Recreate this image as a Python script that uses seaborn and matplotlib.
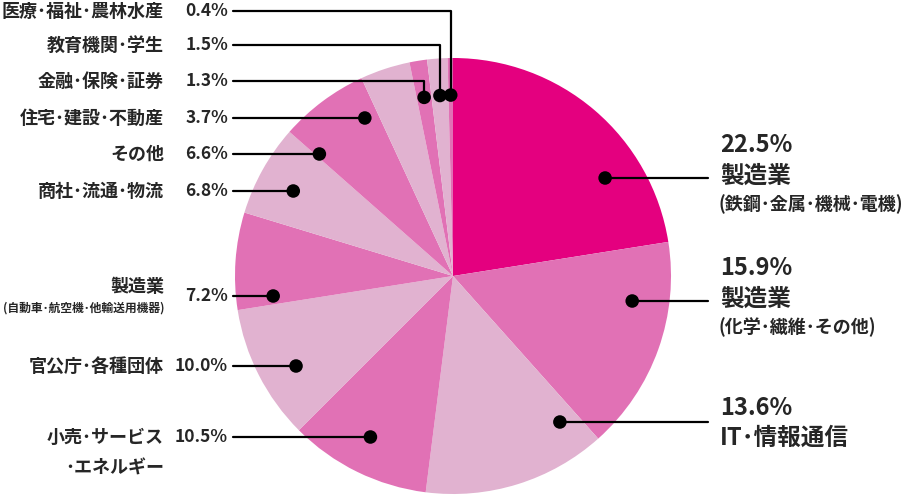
import numpy as np
import pandas as pd
import matplotlib
matplotlib.use("Agg")
import matplotlib.pyplot as plt
import seaborn as sns

# Data (clockwise from 12 o'clock)
values = [22.5, 15.9, 13.6, 10.5, 10.0, 7.2, 6.8, 6.6, 3.7, 1.3, 1.5, 0.4]
labels = ["製造業", "製造業", "IT･情報通信", "小売･サービス", "官公庁･各種団体", "製造業",
          "商社･流通･物流", "その他", "住宅･建設･不動産", "金融･保険･証券",
          "教育機関･学生", "医療･福祉･農林水産"]
sublabels = ["(鉄鋼･金属･機械･電機)", "(化学･繊維･その他)", "", "･エネルギー", "",
             "(自動車･航空機･他輸送用機器)", "", "", "", "", "", ""]
tones = ["dark", "mid", "light", "mid", "light", "mid", "light", "mid", "light", "mid", "light", "mid"]

# Layout (pixels from top-left)
W, H = 905, 496
cx, cy, R = 453, 276, 218
r_dot = 0.83 * R
label_y = [178, 301, 422, 437, 366, 296, 191, 154, 118, 81, 45, 11]
side = ["right"] * 3 + ["left"] * 9
top_leader = [False] * 9 + [True] * 3  # vertical leaders for the thin slices

palette = {"dark": "#E4007F", "mid": "#E171B5", "light": "#E1B2D0"}
colors = [palette[t] for t in tones]

sns.set_theme(style="white")
plt.rcParams['font.family'] = ['Noto Sans CJK JP', 'DejaVu Sans']
FW = "bold"

fig = plt.figure(figsize=(W / 100, H / 100), dpi=100)
ax = fig.add_axes([0, 0, 1, 1])

# y axis inverted -> counterclock=True draws clockwise on screen
ax.pie(values, colors=colors, startangle=270, counterclock=True,
       center=(cx, cy), radius=R, wedgeprops=dict(linewidth=0))
ax.set_xlim(0, W)
ax.set_ylim(H, 0)
ax.set_aspect('equal')
ax.axis('off')

# Dot positions
cum = np.cumsum([0] + values[:-1])
dots = []
for i, v in enumerate(values):
    if top_leader[i]:
        ang = np.deg2rad((cum[i] + v / 2) * 3.6)
        dots.append((cx + r_dot * np.sin(ang), cy - r_dot * np.cos(ang)))
    else:
        dy = label_y[i] - cy
        dx = np.sqrt(r_dot ** 2 - dy ** 2)
        dots.append((cx + dx if side[i] == "right" else cx - dx, label_y[i]))
dot_df = pd.DataFrame(dots, columns=["x", "y"])

# Leader lines
for i, (dx_, dy_) in enumerate(dots):
    y = label_y[i]
    if side[i] == "right":
        ax.plot([dx_, 708], [y, y], color="black", lw=1.6, zorder=3)
    elif top_leader[i]:
        ax.plot([233, dx_, dx_], [y, y, dy_], color="black", lw=1.6, zorder=3)
    else:
        ax.plot([233, dx_], [y, y], color="black", lw=1.6, zorder=3)

sns.scatterplot(data=dot_df, x="x", y="y", s=95, color="black", edgecolor="none",
                zorder=4, legend=False, ax=ax)
ax.set_xlim(0, W)
ax.set_ylim(H, 0)
ax.set_xlabel("")
ax.set_ylabel("")

# Labels
for i, v in enumerate(values):
    y = label_y[i]
    pct = f"{v:.1f}%"
    if side[i] == "right":
        if sublabels[i]:
            ax.text(720, y - 33, pct, fontsize=17, fontweight=FW, va="center", ha="left")
            ax.text(720, y - 2, labels[i], fontsize=17, fontweight=FW, va="center", ha="left")
            ax.text(718, y + 26, sublabels[i], fontsize=13, fontweight=FW, va="center", ha="left")
        else:
            ax.text(720, y - 14, pct, fontsize=17, fontweight=FW, va="center", ha="left")
            ax.text(720, y + 16, labels[i], fontsize=17, fontweight=FW, va="center", ha="left")
    else:
        ax.text(228, y, pct, fontsize=12.5, fontweight=FW, va="center", ha="right")
        if sublabels[i].startswith("("):
            ax.text(164, y - 9, labels[i], fontsize=13, fontweight=FW, va="center", ha="right")
            ax.text(164, y + 12, sublabels[i], fontsize=8.5, fontweight=FW, va="center", ha="right")
        elif sublabels[i]:
            ax.text(164, y, labels[i], fontsize=13, fontweight=FW, va="center", ha="right")
            ax.text(164, y + 31, sublabels[i], fontsize=13, fontweight=FW, va="center", ha="right")
        else:
            ax.text(164, y, labels[i], fontsize=13, fontweight=FW, va="center", ha="right")

plt.savefig("out.png", dpi=100)
